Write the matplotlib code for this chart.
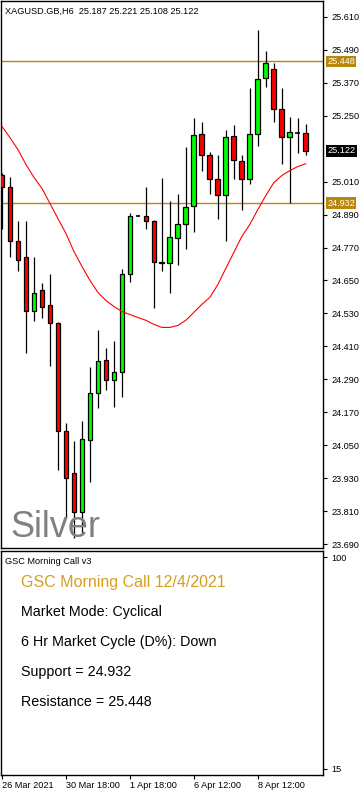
import matplotlib
matplotlib.use("Agg")
import matplotlib.pyplot as plt
import matplotlib.transforms as mtransforms

plt.rcParams['font.family'] = ['Liberation Sans', 'DejaVu Sans']

# H6 candles, XAGUSD
opens = [25.035, 24.992, 24.795, 24.734, 24.537, 24.614, 24.559, 24.494, 24.101, 23.948,
         23.806, 24.068, 24.239, 24.359, 24.286, 24.315, 24.672, 24.886, 24.886, 24.865,
         24.719, 24.712, 24.806, 24.854, 24.923, 25.185, 25.108, 25.021, 24.963, 25.177,
         25.086, 25.021, 25.185, 25.388, 25.421, 25.275, 25.174, 25.188, 25.187]
highs = [25.043, 25.028, 24.865, 24.868, 24.737, 24.639, 24.675, 24.497, 24.130, 24.065,
         24.137, 24.334, 24.468, 24.403, 24.428, 24.690, 24.894, 24.888, 24.992, 24.872,
         25.025, 24.941, 24.966, 25.137, 25.243, 25.228, 25.119, 25.108, 25.199, 25.217,
         25.108, 25.352, 25.563, 25.486, 25.443, 25.352, 25.246, 25.243, 25.221]
lows = [24.839, 24.734, 24.683, 24.385, 24.501, 24.512, 24.337, 23.959, 23.788, 23.712,
        23.730, 23.915, 24.185, 24.250, 24.188, 24.225, 24.646, 24.884, 24.839, 24.548,
        24.683, 24.603, 24.708, 24.766, 24.828, 25.050, 24.966, 24.875, 24.795, 25.021,
        24.908, 25.003, 25.141, 25.355, 25.228, 25.075, 24.932, 25.115, 25.108]
closes = [24.992, 24.792, 24.726, 24.537, 24.603, 24.552, 24.494, 24.101, 23.930, 23.806,
          24.072, 24.239, 24.355, 24.286, 24.315, 24.672, 24.886, 24.886, 24.865, 24.719,
          24.712, 24.810, 24.857, 24.919, 25.181, 25.108, 25.021, 24.963, 25.174, 25.090,
          25.021, 25.185, 25.385, 25.443, 25.275, 25.174, 25.192, 25.188, 25.122]
ma = [25.210, 25.170, 25.126, 25.072, 25.025, 24.985, 24.930, 24.875, 24.821, 24.755,
      24.701, 24.650, 24.606, 24.577, 24.555, 24.537, 24.526, 24.515, 24.505, 24.490,
      24.479, 24.479, 24.486, 24.505, 24.534, 24.563, 24.588, 24.635, 24.694, 24.752,
      24.810, 24.854, 24.908, 24.959, 25.006, 25.032, 25.050, 25.065, 25.075]

support = 24.932
resistance = 25.448
last_price = 25.122
price_ticks = [25.610, 25.490, 25.370, 25.250, 25.010, 24.890, 24.770, 24.650, 24.530,
               24.410, 24.290, 24.170, 24.050, 23.930, 23.810, 23.690]
date_ticks = [0, 8, 16, 24, 32]
date_labels = ['26 Mar 2021', '30 Mar 18:00', '1 Apr 18:00', '6 Apr 12:00', '8 Apr 12:00']

lines_text = ['Market Mode: Cyclical', '6 Hr Market Cycle (D%): Down',
              'Support = 24.932', 'Resistance = 25.448']

W, H = 362, 792
gold = '#B8860B'
fig = plt.figure(figsize=(W / 100, H / 100), dpi=100)

def fx(x):
    return x / W

def fy(y):
    return 1 - y / H

ax = fig.add_axes([fx(0.8), fy(548), fx(322.5), 548 / H - 1 / H])
ax2 = fig.add_axes([fx(0.8), fy(774.5), fx(322.5), (774.5 - 550.5) / H])

n = len(opens)
xs = list(range(n))

# wicks
ax.vlines(xs, lows, highs, color='black', linewidth=0.9, zorder=2)
# bodies
for i in xs:
    o, c = opens[i], closes[i]
    if abs(c - o) < 0.0015:
        ax.hlines(o, i - 0.3, i + 0.3, color='black', linewidth=1.2, zorder=3)
        continue
    col = '#00FF00' if c > o else '#FF0000'
    ax.bar(i, abs(c - o), bottom=min(o, c), width=0.6, color=col,
           edgecolor='black', linewidth=0.9, zorder=3)

ax.plot(xs, ma, color='#FF0000', linewidth=0.8, zorder=4)
ax.axhline(resistance, color=gold, linewidth=1.0, zorder=1)
ax.axhline(support, color=gold, linewidth=1.0, zorder=1)

ax.set_xlim(-0.16, 40.2)
ax.set_ylim(23.6755, 25.668)
ax.set_xticks([])
ax.yaxis.tick_right()
ax.set_yticks(price_ticks)
ax.set_yticklabels(['%.3f' % t for t in price_ticks])
ax.tick_params(axis='y', direction='out', length=3, width=0.8, pad=3, labelsize=6.6)
for s in ax.spines.values():
    s.set_linewidth(1.0)

trans = mtransforms.blended_transform_factory(ax.transAxes, ax.transData)
for val, bg in [(resistance, gold), (support, gold), (last_price, 'black')]:
    ax.text(1.012, val, '%.3f' % val, transform=trans, ha='left', va='center',
            fontsize=6.6, color='white', clip_on=False, zorder=10,
            bbox=dict(boxstyle='square,pad=0.15', facecolor=bg, edgecolor='none'))

ax.text(fx(4.5) / (322.5 / W), 1 - 10 / 548, 'XAGUSD.GB,H6  25.187 25.221 25.108 25.122',
        transform=ax.transAxes, ha='left', va='center', fontsize=6.6, color='black')
ax.text(10 / 322.5, 11 / 548, 'Silver', transform=ax.transAxes, ha='left', va='baseline',
        fontsize=26, color='#808080')

# indicator panel
ax2.set_xlim(-0.16, 40.2)
ax2.set_ylim(12.6, 102.8)
ax2.yaxis.tick_right()
ax2.set_yticks([100, 15])
ax2.set_yticklabels(['100', '15'])
ax2.tick_params(axis='y', direction='out', length=3, width=0.8, pad=3, labelsize=6.6)
ax2.set_xticks(date_ticks)
ax2.set_xticklabels(date_labels, ha='left')
ax2.tick_params(axis='x', direction='out', length=3, width=0.8, pad=2, labelsize=6.6)
for s in ax2.spines.values():
    s.set_linewidth(1.0)

fig.text(fx(5), fy(562), 'GSC Morning Call v3', ha='left', va='center', fontsize=6.6, color='black')
fig.text(fx(21), fy(582.5), 'GSC Morning Call 12/4/2021', ha='left', va='center',
         fontsize=11.5, color='#D4A020')
for k, t in enumerate(lines_text):
    fig.text(fx(21), fy(611.7 + 30 * k), t, ha='left', va='center', fontsize=10.3, color='black')

fig.savefig('out.png', dpi=100)
